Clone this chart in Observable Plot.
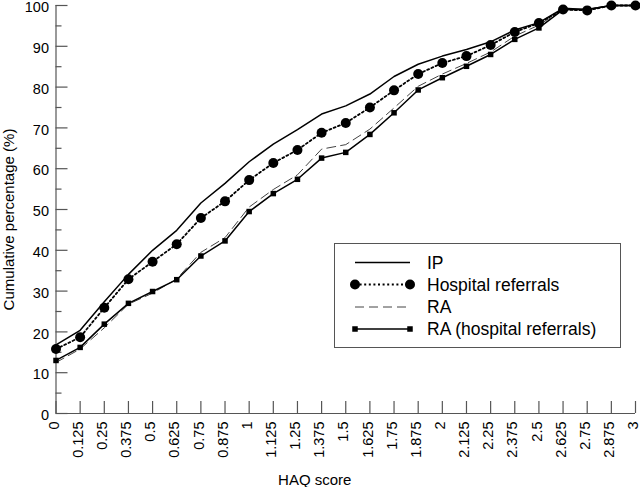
<!DOCTYPE html>
<html><head><meta charset="utf-8">
<script src="https://cdn.jsdelivr.net/npm/d3@7"></script>
<script src="https://cdn.jsdelivr.net/npm/@observablehq/plot@0.6"></script>
<style>
body{margin:0;background:#fff}
#wrap{position:relative;width:640px;height:487px}
#legend{position:absolute;left:0;top:0;pointer-events:none}
</style>
</head><body><div id="wrap"></div>
<script>
// HAQ score categories (x axis)
const haq = [0, 0.125, 0.25, 0.375, 0.5, 0.625, 0.75, 0.875, 1, 1.125, 1.25, 1.375, 1.5, 1.625, 1.75, 1.875, 2, 2.125, 2.25, 2.375, 2.5, 2.625, 2.75, 2.875, 3];
// Cumulative percentage series
const ip = [16.8, 20.4, 27.4, 34.1, 40.0, 44.9, 51.6, 56.4, 61.7, 66.0, 69.6, 73.4, 75.4, 78.3, 82.6, 85.6, 87.6, 89.2, 91.1, 94.0, 95.8, 99.3, 99.0, 100, 100];
const hospital = [15.8, 18.7, 25.9, 32.9, 37.2, 41.5, 47.9, 52.0, 57.2, 61.4, 64.6, 68.8, 71.2, 75.0, 79.2, 83.2, 85.9, 87.6, 90.3, 93.5, 95.7, 99.0, 98.8, 100, 100];
const ra = [12.5, 15.8, 21.0, 26.8, 29.5, 33.0, 39.5, 43.1, 50.6, 54.9, 58.5, 64.8, 65.9, 69.7, 74.9, 80.2, 83.2, 85.8, 88.6, 92.5, 95.2, 99.0, 99.0, 100, 100];
const raHospital = [13.0, 16.2, 21.9, 27.0, 29.9, 32.8, 38.6, 42.3, 49.5, 53.9, 57.4, 62.6, 64.0, 68.4, 73.7, 79.3, 82.3, 85.1, 88.0, 91.7, 94.5, 99.0, 99.0, 100, 100];
// Tick values and labels
const xTicks = haq;
const yMajorTicks = [0, 10, 20, 30, 40, 50, 60, 70, 80, 90, 100];
const yMinorTicks = [5, 15, 25, 35, 45, 55, 65, 75, 85, 95];
const seriesNames = ["IP", "Hospital referrals", "RA", "RA (hospital referrals)"];
const xTitle = "HAQ score";
const yTitle = "Cumulative percentage (%)";

const rows = (vals) => haq.map((x, i) => ({x, y: vals[i]}));
const axisColor = "#555";

const chart = Plot.plot({
  width: 640,
  height: 487,
  marginLeft: 55.5,
  marginRight: 5,
  marginTop: 5,
  marginBottom: 74,
  style: {fontFamily: "'Liberation Sans', Arial, sans-serif", fontSize: "14.5px", background: "#fff", color: "#000"},
  x: {domain: [0, 3], label: null},
  y: {domain: [0, 100], label: null},
  marks: [
    Plot.ruleX([0], {stroke: axisColor, strokeWidth: 1.2}),
    Plot.ruleY([0], {stroke: axisColor, strokeWidth: 1.2}),
    Plot.axisY(yMajorTicks, {tickSize: -12, tickFormat: () => "", stroke: axisColor, strokeWidth: 1.2, label: null}),
    Plot.axisY(yMinorTicks, {tickSize: -6, tickFormat: () => "", stroke: axisColor, strokeWidth: 1.2, label: null}),
    Plot.axisX(xTicks, {tickSize: -12, tickFormat: () => "", stroke: axisColor, strokeWidth: 1.2, label: null}),
    Plot.axisY(yMajorTicks, {tickSize: 0, tickPadding: 7, dy: 2, tickFormat: d => String(d), label: null}),
    Plot.axisX(xTicks, {tickSize: 0, tickPadding: 8, tickRotate: -90, dx: -2, tickFormat: d => String(d), label: null}),
    Plot.line(rows(ip), {x: "x", y: "y", stroke: "#000", strokeWidth: 1.5}),
    Plot.line(rows(ra), {x: "x", y: "y", stroke: "#444", strokeWidth: 1, strokeDasharray: "9,5"}),
    Plot.line(rows(raHospital), {x: "x", y: "y", stroke: "#000", strokeWidth: 1.5}),
    Plot.dot(rows(raHospital), {x: "x", y: "y", symbol: "square", r: 3.1, fill: "#000"}),
    Plot.line(rows(hospital), {x: "x", y: "y", stroke: "#000", strokeWidth: 1.8, strokeDasharray: "2,2.6"}),
    Plot.dot(rows(hospital), {x: "x", y: "y", r: 5, fill: "#000"}),
    Plot.text([xTitle], {frameAnchor: "bottom", textAnchor: "middle", lineAnchor: "middle", dx: -31, dy: 67, fontSize: 15}),
    Plot.text([yTitle], {frameAnchor: "left", textAnchor: "middle", lineAnchor: "middle", rotate: -90, dx: -46.5, dy: 10, fontSize: 15})
  ]
});
document.getElementById("wrap").appendChild(chart);

// Legend overlay
const lg = d3.select("#wrap").append("svg").attr("id", "legend").attr("width", 640).attr("height", 487);
lg.append("rect").attr("x", 334.5).attr("y", 243.5).attr("width", 286).attr("height", 104)
  .attr("fill", "#fff").attr("stroke", "#555").attr("stroke-width", 1);
const rowY = [262.5, 284.5, 307, 329];
const styles = [
  {stroke: "#000", width: 1.5, dash: null, marker: null},
  {stroke: "#000", width: 1.8, dash: "2,2.6", marker: "circle"},
  {stroke: "#444", width: 1, dash: "9,5", marker: null},
  {stroke: "#000", width: 1.5, dash: null, marker: "square"}
];
seriesNames.forEach((name, i) => {
  const s = styles[i], y = rowY[i];
  lg.append("line").attr("x1", 355).attr("x2", 410).attr("y1", y).attr("y2", y)
    .attr("stroke", s.stroke).attr("stroke-width", s.width).attr("stroke-dasharray", s.dash);
  if (s.marker === "circle") {
    [355, 410].forEach(cx => lg.append("circle").attr("cx", cx).attr("cy", y).attr("r", 5).attr("fill", "#000"));
  } else if (s.marker === "square") {
    [355, 410].forEach(cx => lg.append("rect").attr("x", cx - 2.75).attr("y", y - 2.75).attr("width", 5.5).attr("height", 5.5).attr("fill", "#000"));
  }
  lg.append("text").attr("x", 427).attr("y", y).attr("dy", "0.35em")
    .attr("font-family", "'Liberation Sans', Arial, sans-serif").attr("font-size", 17.5).text(name);
});
</script>
</body></html>
